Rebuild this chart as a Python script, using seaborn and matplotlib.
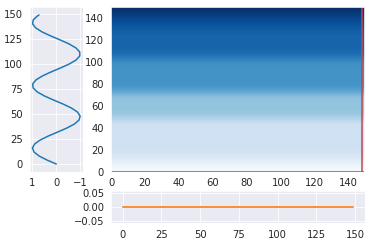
import numpy as np
import matplotlib
matplotlib.use("Agg")
import matplotlib.pyplot as plt
import seaborn as sns

# ---- data ----
# left marginal: column profile at the cursor (value vs row)
left_rows = [0, 4, 8, 12, 16, 20, 24, 28, 32, 36, 40, 44, 48, 52, 56, 60, 64, 68, 72,
             76, 80, 84, 88, 92, 96, 100, 104, 108, 112, 116, 120, 124, 128, 132, 136,
             140, 144, 148, 149]
left_vals = [0.0, 0.389, 0.717, 0.932, 1.0, 0.909, 0.675, 0.335, -0.058, -0.443,
             -0.757, -0.952, -0.996, -0.883, -0.631, -0.279, 0.117, 0.494, 0.794,
             0.968, 0.989, 0.855, 0.585, 0.223, -0.174, -0.544, -0.828, -0.981, -0.979,
             -0.823, -0.537, -0.165, 0.231, 0.592, 0.859, 0.991, 0.967, 0.788, 0.723]

# bottom marginal: row profile at the cursor (value vs column)
bottom_cols = [0, 149]
bottom_vals = [0.0, 0.0]

# main image: intensity per 5-unit row band (bottom -> top), constant across columns
image_profile = [0.03, 0.08, 0.14, 0.19, 0.20, 0.20, 0.20, 0.20, 0.21, 0.31,
                 0.39, 0.40, 0.40, 0.42, 0.54, 0.61, 0.62, 0.62, 0.62, 0.63,
                 0.70, 0.78, 0.80, 0.80, 0.80, 0.82, 0.86, 0.90, 0.95, 1.00]
image_extent = (0, 149, 0, 150)
cursor_x = 148
cursor_y = 0

# ---- style ----
sns.set_style("darkgrid")

fig = plt.figure(figsize=(371 / 72, 245 / 72), dpi=72)
ax_left = fig.add_axes([0.0809, 0.300, 0.1415, 0.6694])
ax_main = fig.add_axes([0.2992, 0.300, 0.6820, 0.6714])
ax_bot = fig.add_axes([0.2992, 0.091, 0.6846, 0.129])

# left marginal
sns.lineplot(x=left_vals, y=left_rows, ax=ax_left, color="#1f77b4", lw=1.5,
             orient="y", estimator=None, sort=False)
ax_left.invert_xaxis()
ax_left.set_xticks([1, 0, -1])
ax_left.set_yticks([0, 25, 50, 75, 100, 125, 150])

# main image
img = np.array(image_profile)[:, None]
ax_main.imshow(img, cmap="Blues", vmin=0, vmax=1, origin="lower", aspect="auto",
               extent=image_extent, interpolation="bilinear")
ax_main.set_xlim(image_extent[0], image_extent[1])
ax_main.set_ylim(image_extent[2], image_extent[3])
ax_main.set_xticks(range(0, 150, 20))
ax_main.set_yticks(range(0, 150, 20))
ax_main.grid(False)
ax_main.axvline(cursor_x, color="#c9434b", lw=1.5)
ax_main.axhline(cursor_y, color="#c9434b", lw=1.5)

# bottom marginal
sns.lineplot(x=bottom_cols, y=bottom_vals, ax=ax_bot, color="#f9913a", lw=2,
             estimator=None)
ax_bot.set_xticks([0, 25, 50, 75, 100, 125, 150])
ax_bot.set_yticks([-0.05, 0.0, 0.05])
ax_bot.set_ylim(-0.055, 0.055)

fig.savefig("out.png", dpi=72)
